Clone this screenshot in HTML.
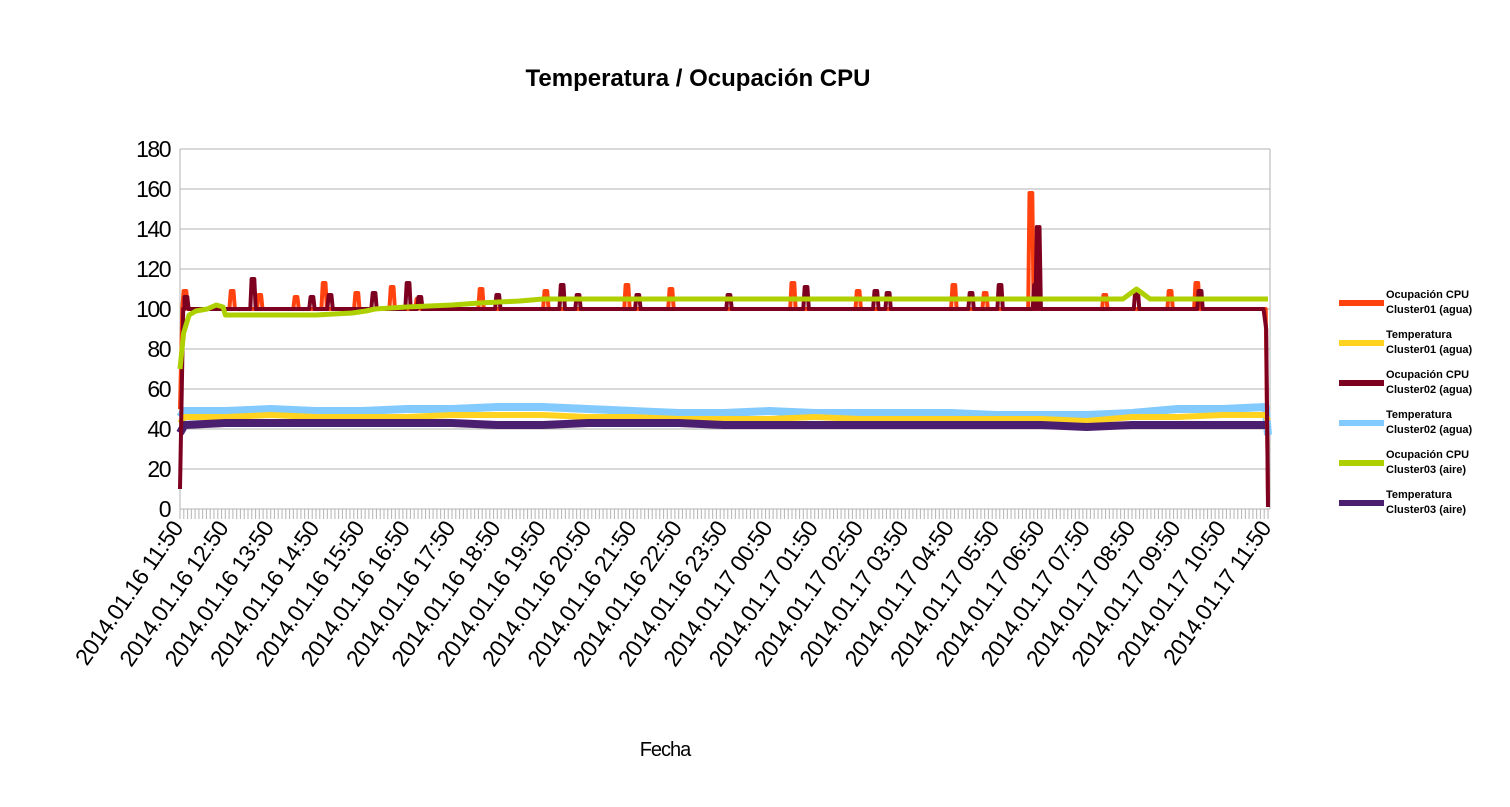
<!DOCTYPE html>
<html><head><meta charset="utf-8"><style>
body{margin:0;background:#fff;width:1510px;height:802px;overflow:hidden}
svg text{font-family:"Liberation Sans",sans-serif}
</style></head><body>
<svg id="c" width="1510" height="802">
<text x="698" y="86" text-anchor="middle" font-size="24" font-weight="bold">Temperatura / Ocupación CPU</text>
<text x="665" y="756" text-anchor="middle" font-size="20" letter-spacing="-1">Fecha</text>
<g id="grid"></g><g id="ticks"></g><g id="series"></g><g id="legend"></g>
</svg>
<script>
const yTicks=[0,20,40,60,80,100,120,140,160,180];
const xLabels=["2014.01.16 11:50","2014.01.16 12:50","2014.01.16 13:50","2014.01.16 14:50","2014.01.16 15:50","2014.01.16 16:50","2014.01.16 17:50","2014.01.16 18:50","2014.01.16 19:50","2014.01.16 20:50","2014.01.16 21:50","2014.01.16 22:50","2014.01.16 23:50","2014.01.17 00:50","2014.01.17 01:50","2014.01.17 02:50","2014.01.17 03:50","2014.01.17 04:50","2014.01.17 05:50","2014.01.17 06:50","2014.01.17 07:50","2014.01.17 08:50","2014.01.17 09:50","2014.01.17 10:50","2014.01.17 11:50"];
const seriesNames=["Ocupación CPU|Cluster01 (agua)","Temperatura|Cluster01 (agua)","Ocupación CPU|Cluster02 (agua)","Temperatura|Cluster02 (agua)","Ocupación CPU|Cluster03 (aire)","Temperatura|Cluster03 (aire)"];
const seriesColors=["#ff420e","#ffd320","#7e0021","#83caff","#aecf00","#4b1f6f"];
const cpu1Base=[[0,50],[0.05,100],[23.95,100],[24,5]];
const cpu1Spikes=[[0.11,109],[1.15,109],[1.76,107],[2.56,106],[3.18,113],[3.9,108],[4.68,111],[5.25,105],[6.64,110],[8.07,109],[9.86,112],[10.83,110],[13.52,113],[14.96,109],[17.07,112],[17.76,108],[18.77,158],[20.4,107],[21.84,109],[22.43,113]];
const cpu2Base=[[0,10],[0.1,100],[23.9,100],[23.96,90],[24,1]];
const cpu2Spikes=[[0.13,106],[1.61,115],[2.91,106],[3.31,107],[4.28,108],[5.03,113],[5.29,106],[7.01,107],[8.43,112],[8.78,107],[10.1,107],[12.11,107],[13.81,111],[15.35,109],[15.62,108],[17.45,108],[18.09,112],[18.87,112],[18.93,141],[21.1,109],[22.5,109]];
const cpu3=[[0,70],[0.08,88],[0.2,97],[0.35,99],[0.6,100],[0.8,102],[0.95,101],[1.0,97],[2.0,97],[3.0,97],[3.8,98],[4.1,99],[4.3,100],[5.0,101],[6.0,102],[6.6,103],[7.5,104],[8.0,105],[12,105],[16,105],[20.8,105],[21.1,110],[21.4,105],[24,105]];
const temp1=[[0,43],[0.1,46],[1,46],[2,47],[3,46],[4,46],[5,46],[6,47],[7,47],[8,47],[9,46],[10,46],[11,45],[12,45],[13,45],[14,46],[15,45],[16,45],[17,45],[18,45],[19,45],[20,44],[21,46],[22,46],[23,47],[23.95,47],[24,44]];
const temp2=[[0,46],[0.1,49],[1,49],[2,50],[3,49],[4,49],[5,50],[6,50],[7,51],[8,51],[9,50],[10,49],[11,48],[12,48],[13,49],[14,48],[15,48],[16,48],[17,48],[18,47],[19,47],[20,47],[21,48],[22,50],[23,50],[23.95,51],[24,37]];
const temp3=[[0,38],[0.1,42],[1,43],[2,43],[3,43],[4,43],[5,43],[6,43],[7,42],[8,42],[9,43],[10,43],[11,43],[12,42],[13,42],[14,42],[15,42],[16,42],[17,42],[18,42],[19,42],[20,41],[21,42],[22,42],[23,42],[24,42]];
const X0=180,X1=1268,Y0=509,Y1=149;
const xs=h=>X0+h/24*(X1-X0);
const ys=v=>Y0-v/180*(Y0-Y1);
const NS="http://www.w3.org/2000/svg";
function mk(tag,attrs,parent){const e=document.createElementNS(NS,tag);for(const k in attrs)e.setAttribute(k,attrs[k]);parent.appendChild(e);return e;}
const grid=document.getElementById('grid'),ticks=document.getElementById('ticks'),ser=document.getElementById('series'),leg=document.getElementById('legend');
yTicks.forEach(v=>{
  const l=mk('line',{x1:X0,x2:1270,y1:ys(v),y2:ys(v),stroke:'#b3b3b3','stroke-width':1},grid);
  
  
  const t=mk('text',{x:170,y:ys(v)+8,'text-anchor':'end','font-size':23,'letter-spacing':'-1.5'},grid);
  t.textContent=v;
  
  
});
const ax=mk('line',{x1:X0,x2:X0,y1:Y1,y2:Y0,stroke:'#b3b3b3'},grid);


mk('line',{x1:1270,x2:1270,y1:Y1,y2:Y0,stroke:'#b3b3b3'},grid);
let tp='';for(let i=0;i<=288;i++){const x=X0+i*(X1-X0)/288;tp+=`M${x.toFixed(1)},${Y0}V${Y0+10}`;}
const tk=mk('path',{d:tp,stroke:'#b3b3b3','stroke-width':1},ticks);


xLabels.forEach((s,i)=>{
  const x=xs(i)+4,y=528;
  const t=mk('text',{x:x,y:y,'text-anchor':'end','font-size':23,'letter-spacing':'-0.5',transform:`rotate(-55 ${x} ${y})`},ticks);
  t.textContent=s;
  
  
});
function withSpikes(base,spikes){
  const pts=base.slice();
  spikes.forEach(([h,v])=>{pts.push([h-0.06,100]);pts.push([h-0.03,v]);pts.push([h+0.03,v]);pts.push([h+0.06,100]);});
  return pts.sort((a,b)=>a[0]-b[0]);
}
function line(pts,color,w,name){
  const d=pts.map((p,i)=>(i?'L':'M')+xs(p[0]).toFixed(1)+','+ys(p[1]).toFixed(1)).join('');
  const p=mk('path',{d:d,fill:'none',stroke:color,'stroke-width':w,'stroke-linejoin':'round'},ser);
  
  
}
line(temp2,seriesColors[3],8,'series-temp-cluster02');
line(temp1,seriesColors[1],6,'series-temp-cluster01');
line(temp3,seriesColors[5],8,'series-temp-cluster03');
line(withSpikes(cpu1Base,cpu1Spikes),seriesColors[0],4,'series-cpu-cluster01');
line(withSpikes(cpu2Base,cpu2Spikes),seriesColors[2],4,'series-cpu-cluster02');
line(cpu3,seriesColors[4],5,'series-cpu-cluster03');
seriesNames.forEach((n,i)=>{
  const y=303+i*40;
  const g=mk('g',{},leg);
  
  
  mk('rect',{x:1339,y:y-3,width:45,height:6,fill:seriesColors[i]},g);
  const [a,b]=n.split('|');
  const t1=mk('text',{x:1386,y:y-5,'font-size':11,'font-weight':'bold'},g);t1.textContent=a;
  const t2=mk('text',{x:1386,y:y+10,'font-size':11,'font-weight':'bold'},g);t2.textContent=b;
});
</script>
</body></html>
